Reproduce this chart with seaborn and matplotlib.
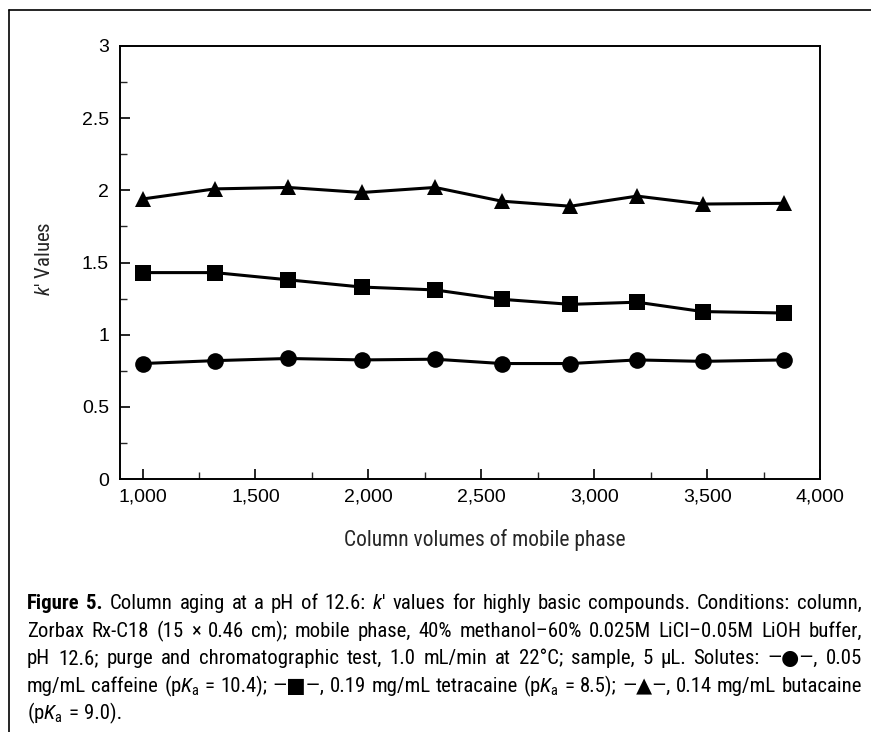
import numpy as np
import pandas as pd
import matplotlib
matplotlib.use("Agg")
import matplotlib.pyplot as plt
import seaborn as sns
from matplotlib import font_manager
from matplotlib.lines import Line2D
from matplotlib.ticker import MultipleLocator, FuncFormatter

# ---------------- data ----------------
column_volumes = [1000, 1320, 1645, 1970, 2295, 2590, 2895, 3190, 3480, 3840]
caffeine = [0.80, 0.82, 0.835, 0.825, 0.83, 0.80, 0.80, 0.825, 0.815, 0.825]
tetracaine = [1.43, 1.43, 1.38, 1.33, 1.31, 1.245, 1.21, 1.225, 1.16, 1.15]
butacaine = [1.94, 2.01, 2.02, 1.985, 2.02, 1.925, 1.89, 1.96, 1.905, 1.91]
compounds = ["caffeine", "tetracaine", "butacaine"]
x_ticks = [1000, 1500, 2000, 2500, 3000, 3500, 4000]
y_ticks = [0, 0.5, 1, 1.5, 2, 2.5, 3]

df = pd.DataFrame({
    "x": column_volumes * 3,
    "k": caffeine + tetracaine + butacaine,
    "compound": [c for c in compounds for _ in column_volumes],
})

# ---------------- fonts ----------------
names = {f.name for f in font_manager.fontManager.ttflist}
cap_font = "Liberation Sans"
for cand in ["Liberation Sans Narrow", "Roboto Condensed", "Open Sans Condensed", "Liberation Sans"]:
    if cand in names:
        cap_font = cand
        break

sns.set_theme(style="white")
plt.rcParams["font.family"] = ["Liberation Sans", "DejaVu Sans"]
plt.rcParams["mathtext.fontset"] = "custom"
plt.rcParams["mathtext.rm"] = cap_font
plt.rcParams["mathtext.it"] = cap_font + ":italic"
plt.rcParams["mathtext.bf"] = cap_font + ":bold"

W, H = 871, 732
fig = plt.figure(figsize=(W / 100, H / 100), dpi=100)
fig.patch.set_facecolor("white")

ax_l, ax_r, ax_t, ax_b = 120, 820, 46, 479
ax = fig.add_axes([ax_l / W, 1 - ax_b / H, (ax_r - ax_l) / W, (ax_b - ax_t) / H])
ax.set_facecolor("white")

sns.lineplot(
    data=df, x="x", y="k", style="compound", style_order=compounds,
    markers={"caffeine": "o", "tetracaine": "s", "butacaine": "^"},
    dashes=False, color="black", linewidth=2.2, markersize=12,
    markeredgewidth=0, legend=False, ax=ax,
)

ax.set_xlim(900, 4000)
ax.set_ylim(0, 3)
ax.set_xticks(x_ticks)
ax.set_yticks(y_ticks)
ax.xaxis.set_minor_locator(MultipleLocator(250))
ax.yaxis.set_minor_locator(MultipleLocator(0.25))
ax.xaxis.set_major_formatter(FuncFormatter(lambda v, p: f"{int(v):,}"))
ax.yaxis.set_major_formatter(FuncFormatter(lambda v, p: f"{v:g}"))
ax.tick_params(axis="both", which="major", direction="in", length=7, width=1.2,
               labelsize=14, colors="black", bottom=True, left=True, top=False, right=False)
ax.tick_params(axis="x", which="major", pad=7)
ax.tick_params(axis="y", which="major", pad=8)
ax.tick_params(axis="both", which="minor", direction="in", length=5, width=1.0,
               bottom=True, left=True, top=False, right=False)
for s in ax.spines.values():
    s.set_visible(True)
    s.set_color("black")
    s.set_linewidth(1.4)
ax.set_xlabel("")
ax.set_ylabel("")

# axis titles
fig.text(44 / W, 1 - 259 / H, r"$\mathit{k}$′ Values", rotation=90, ha="center", va="center",
         fontsize=15, family=[cap_font, "DejaVu Sans"])
fig.text(485 / W, 1 - 540 / H, "Column volumes of mobile phase", ha="center", va="center",
         fontsize=15.5, family=[cap_font, "DejaVu Sans"])

# outer frame (top and left rules)
fig.add_artist(Line2D([9 / W, 9 / W], [0, 1 - 10 / H], transform=fig.transFigure, color="black", lw=1.2))
fig.add_artist(Line2D([9 / W, 1], [1 - 10 / H, 1 - 10 / H], transform=fig.transFigure, color="black", lw=1.2))

# ---------------- caption (justified, auto-fitted) ----------------
pk = r"p$\mathit{K}_{\mathrm{a}}$"
caption_lines = [
    [("Figure", "bold"), ("5.", "bold"), "Column", "aging", "at", "a", "pH", "of", "12.6:",
     r"$\mathit{k}$′", "values", "for", "highly", "basic", "compounds.", "Conditions:", "column,"],
    "Zorbax Rx-C18 (15 × 0.46 cm); mobile phase, 40% methanol–60% 0.025M LiCl–0.05M LiOH buffer,".split(" "),
    "pH 12.6; purge and chromatographic test, 1.0 mL/min at 22°C; sample, 5 µL. Solutes: —●—, 0.05".split(" "),
    ["mg/mL", "caffeine", "(" + pk, "=", "10.4);", "—■—,", "0.19", "mg/mL", "tetracaine", "(" + pk, "=",
     "8.5);", "—▲—,", "0.14", "mg/mL", "butacaine"],
    ["(" + pk, "=", "9.0)."],
]
baselines = [609, 637, 664, 692, 719]
x0, x1 = 27, 862
renderer = fig.canvas.get_renderer()

ref_size = 10.0
all_texts = []
for li, words in enumerate(caption_lines):
    texts = []
    for w in words:
        weight = "normal"
        if isinstance(w, tuple):
            w, weight = w
        t = fig.text(0, 1 - baselines[li] / H, w, fontsize=ref_size, fontweight=weight,
                     family=[cap_font, "DejaVu Sans"], ha="left", va="baseline", color="black")
        texts.append(t)
    all_texts.append(texts)

# choose font size so that the tightest justified line has natural word spacing
space_em = 0.26
best = 1e9
for li in range(4):
    texts = all_texts[li]
    wsum = sum(t.get_window_extent(renderer).width for t in texts)
    per_pt = wsum / ref_size + (len(texts) - 1) * space_em * 100 / 72
    best = min(best, (x1 - x0) / per_pt)
cap_size = best

for li, texts in enumerate(all_texts):
    for t in texts:
        t.set_fontsize(cap_size)
    widths = [t.get_window_extent(renderer).width for t in texts]
    space = cap_size * 100 / 72 * space_em
    if li < len(all_texts) - 1 and len(texts) > 1:
        space = (x1 - x0 - sum(widths)) / (len(texts) - 1)
    x = x0
    for t, wd in zip(texts, widths):
        t.set_x(x / W)
        x += wd + space

fig.savefig("out.png", dpi=100, facecolor="white")
